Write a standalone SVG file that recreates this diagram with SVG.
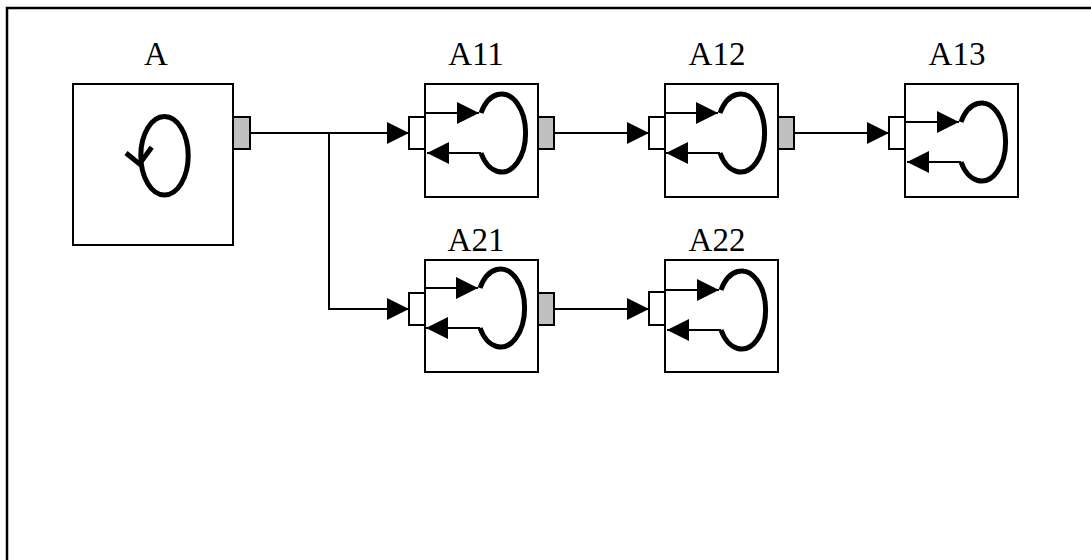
<svg xmlns="http://www.w3.org/2000/svg" width="1091" height="560" viewBox="0 0 1091 560">
  <style>
    .box { fill: #ffffff; stroke: #000000; stroke-width: 2; }
    .pin { fill: #ffffff; stroke: #000000; stroke-width: 2; }
    .pout { fill: #c0c0c0; stroke: #000000; stroke-width: 2; }
    .ln { fill: none; stroke: #000000; stroke-width: 2; }
    .loop { fill: none; stroke: #000000; stroke-width: 5; }
    .lbl { font-family: "Liberation Serif", "Times New Roman", serif; font-size: 33px; fill: #000000; text-anchor: middle; }
  </style>
  <defs>
    <marker id="arr" markerUnits="userSpaceOnUse" markerWidth="22" markerHeight="22" refX="22" refY="11" orient="auto">
      <path d="M0,0 L22,11 L0,22 Z" fill="#000000"/>
    </marker>
    <g id="inner">
      <path class="ln" d="M0,29 H54" marker-end="url(#arr)"/>
      <path class="ln" d="M56,69 H2" marker-end="url(#arr)"/>
      <path class="loop" d="M56,29 A24 39 0 1 1 56,69"/>
    </g>
  </defs>

  <rect width="1091" height="560" fill="#ffffff"/>
  <path d="M7,560 V8 H1091" fill="none" stroke="#000000" stroke-width="2.5"/>

  <g id="connectors">
    <path class="ln" d="M250,133 H409" marker-end="url(#arr)"/>
    <path class="ln" d="M329,133 V309 H409" marker-end="url(#arr)"/>
    <path class="ln" d="M554,133 H649" marker-end="url(#arr)"/>
    <path class="ln" d="M794,133 H889" marker-end="url(#arr)"/>
    <path class="ln" d="M554,309 H649" marker-end="url(#arr)"/>
  </g>

  <g id="A">
    <text class="lbl" x="156" y="65">A</text>
    <rect class="box" x="73" y="84" width="160" height="161"/>
    <rect class="pout" x="233" y="117" width="17" height="32"/>
    <ellipse class="loop" cx="164.5" cy="155.7" rx="23.7" ry="39.2"/>
    <polyline class="loop" points="126,153 139.5,164 151.7,147.3"/>
  </g>

  <g id="A11">
    <text class="lbl" x="476" y="65">A11</text>
    <rect class="box" x="425" y="84" width="113" height="113"/>
    <rect class="pin" x="409" y="117" width="16" height="32"/>
    <rect class="pout" x="538" y="117" width="16" height="32"/>
    <use href="#inner" transform="translate(425,84)"/>
  </g>

  <g id="A12">
    <text class="lbl" x="717" y="65">A12</text>
    <rect class="box" x="665" y="84" width="113" height="113"/>
    <rect class="pin" x="649" y="117" width="16" height="32"/>
    <rect class="pout" x="778" y="117" width="16" height="32"/>
    <use href="#inner" transform="translate(664,84)"/>
  </g>

  <g id="A13">
    <text class="lbl" x="957" y="65">A13</text>
    <rect class="box" x="905" y="84" width="113" height="113"/>
    <rect class="pin" x="889" y="117" width="16" height="32"/>
    <use href="#inner" transform="translate(905,93)"/>
  </g>

  <g id="A21">
    <text class="lbl" x="476" y="251">A21</text>
    <rect class="box" x="425" y="260" width="113" height="112"/>
    <rect class="pin" x="409" y="293" width="16" height="32"/>
    <rect class="pout" x="538" y="293" width="16" height="32"/>
    <use href="#inner" transform="translate(424,259)"/>
  </g>

  <g id="A22">
    <text class="lbl" x="717" y="251">A22</text>
    <rect class="box" x="665" y="260" width="113" height="112"/>
    <rect class="pin" x="649" y="292" width="16" height="33"/>
    <use href="#inner" transform="translate(665,261)"/>
  </g>
</svg>
